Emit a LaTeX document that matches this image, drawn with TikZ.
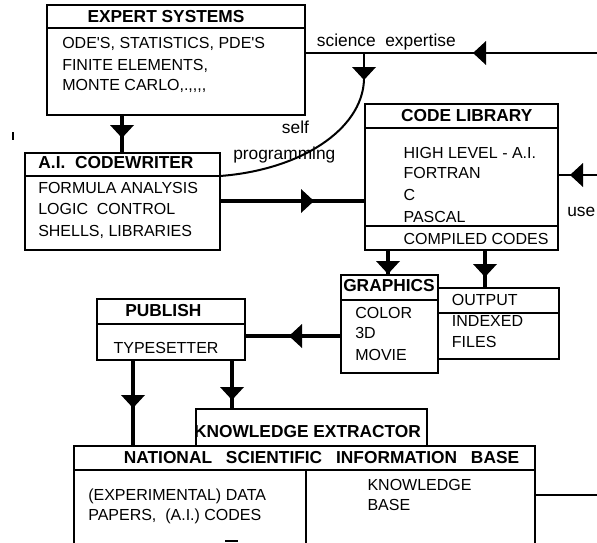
\documentclass[tikz,border=0pt]{standalone}
\usepackage{fontspec}
\setmainfont{Liberation Sans}
\usetikzlibrary{decorations.markings}
\begin{document}
\begin{tikzpicture}[x=0.75pt,y=-0.75pt,
  box/.style={draw, line width=1pt, inner sep=0pt, outer sep=0pt, anchor=north west},
  divl/.style={line width=1pt},
  thickl/.style={line width=3.6pt},
  thinl/.style={line width=1.5pt},
  tx/.style={anchor=base west, inner sep=0pt, font=\fontsize{12}{14}\selectfont},
  ttl/.style={anchor=base, inner sep=0pt, font=\fontsize{13}{15}\selectfont\bfseries},
  lbl/.style={anchor=base west, inner sep=0pt, font=\fontsize{13}{15}\selectfont},
  headat/.style={postaction={decorate}, decoration={markings, mark=at position #1 with {\fill (-9.75pt,-9pt) -- (0pt,0pt) -- (-9.75pt,9pt) -- cycle;}}}
]
\useasboundingbox (0,0) rectangle (597,543);
\clip (0,0) rectangle (597,543);

% boxes
\node[box, minimum width=258*0.75pt, minimum height=110*0.75pt] (es) at (47,5) {};
\node[box, minimum width=195*0.75pt, minimum height=97*0.75pt] (cw) at (25,153) {};
\node[box, minimum width=193*0.75pt, minimum height=146*0.75pt] (cl) at (365,104) {};
\node[box, minimum width=97*0.75pt, minimum height=98*0.75pt] (gr) at (341,275) {};
\node[box, minimum width=121*0.75pt, minimum height=71*0.75pt] (op) at (438,288) {};
\node[box, minimum width=148*0.75pt, minimum height=61*0.75pt] (pb) at (97,299) {};
\node[box, minimum width=231*0.75pt, minimum height=37*0.75pt] (ke) at (196,409) {};
\node[box, minimum width=461*0.75pt, minimum height=120*0.75pt] (nb) at (74,446) {};

% dividers
\draw[divl] (es.west |- 0,28) -- (es.east |- 0,28);
\draw[divl] (cw.west |- 0,176) -- (cw.east |- 0,176);
\draw[divl] (cl.west |- 0,128) -- (cl.east |- 0,128);
\draw[divl] (cl.west |- 0,226) -- (cl.east |- 0,226);
\draw[divl] (gr.west |- 0,300) -- (gr.east |- 0,300);
\draw[divl] (op.west |- 0,313) -- (op.east |- 0,313);
\draw[divl] (pb.west |- 0,324) -- (pb.east |- 0,324);
\draw[divl] (nb.west |- 0,470) -- (nb.east |- 0,470);
\draw[divl] (306,470) -- (nb.south -| 306,0);

% texts
\node[ttl] (esT) at (166,22) {EXPERT SYSTEMS};
\node[tx] (es1) at (62,48.3) {ODE\textquotesingle S, STATISTICS, PDE\textquotesingle S};
\node[tx] (es2) at (62,70) {FINITE ELEMENTS,};
\node[tx] (es3) at (62,90.7) {MONTE CARLO,.,\kern0pt,\kern0pt,\kern0pt,};

\node[ttl] (cwT) at (116,168.3) {A.I.\ \ CODEWRITER};
\node[tx] (cw1) at (38,193.3) {FORMULA ANALYSIS};
\node[tx] (cw2) at (38,214) {LOGIC\ \ CONTROL};
\node[tx] (cw3) at (38,236.7) {SHELLS, LIBRARIES};

\node[ttl] (clT) at (466.7,121.7) {CODE LIBRARY};
\node[tx] (cl1) at (403.3,158.3) {HIGH LEVEL - A.I.};
\node[tx] (cl2) at (403.3,178.3) {FORTRAN};
\node[tx] (cl3) at (403.3,200) {C};
\node[tx] (cl4) at (403.3,222.7) {PASCAL};
\node[tx] (cl5) at (403.3,244) {COMPILED CODES};

\node[ttl] (grT) at (389,291.7) {GRAPHICS};
\node[tx] (gr1) at (355,318.3) {COLOR};
\node[tx] (gr2) at (355,338.3) {3D};
\node[tx] (gr3) at (355,360) {MOVIE};

\node[tx] (opT) at (451.7,305) {OUTPUT};
\node[tx] (op1) at (451.7,326.7) {INDEXED};
\node[tx] (op2) at (451.7,347.3) {FILES};

\node[ttl] (pbT) at (163.3,316.7) {PUBLISH};
\node[tx] (pb1) at (113.3,353.3) {TYPESETTER};

\node[ttl] (keT) at (307.5,437.7) {KNOWLEDGE EXTRACTOR};
\node[ttl] (nbT) at (321.5,463.3) {NATIONAL\hspace{0.8em}SCIENTIFIC\hspace{0.8em}INFORMATION\hspace{0.8em}BASE};
\node[tx] (nb1) at (88,500) {(EXPERIMENTAL) DATA};
\node[tx] (nb2) at (88,520.7) {PAPERS,\ \ (A.I.) CODES};
\node[tx] (nb3) at (367.3,490.7) {KNOWLEDGE};
\node[tx] (nb4) at (367.3,510.7) {BASE};

\node[lbl] (sci) at (316.7,46) {science\ \ expertise};
\node[lbl] (slf) at (281.7,133.3) {self};
\node[lbl] (prg) at (233,159.3) {programming};
\node[lbl] (use) at (567,216.7) {use};

% connectors
\coordinate (sr) at (597,53);
\coordinate (sd) at (364,53);
\coordinate (st) at (364,80);
\coordinate (ur) at (597,175);
\coordinate (nr) at (597,495);

\draw[thickl, headat=17.25pt] (es.south -| 122,0) -- (cw.north -| 122,0);
\draw[thickl, headat=70.5pt] (cw.east |- 0,201) -- (cl.west |- 0,201);
\draw[thinl, headat=93pt] (sr) -- (es.east |- sr);
\draw[line width=2pt, headat=20.25pt] (sd) -- (st);
\draw[thinl] (cw.east |- 0,176) .. controls (300,170) and (362,130) .. (st);
\draw[thinl, headat=20.25pt] (ur) -- (cl.east |- ur);
\draw[thickl, headat=18pt] (cl.south -| 388,0) -- (gr.north -| 388,0);
\draw[thickl, headat=20.25pt] (cl.south -| 485,0) -- (op.north -| 485,0);
\draw[thickl, headat=39pt] (gr.west |- 0,336) -- (pb.east |- 0,336);
\draw[thickl, headat=36pt] (pb.south -| 133,0) -- (nb.north -| 133,0);
\draw[thickl, headat=30pt] (pb.south -| 232,0) -- (ke.north -| 232,0);
\draw[thinl] (nb.east |- nr) -- (nr);

% stray marks of the original
\draw[line width=1pt] (13,132) -- (13,140);
\draw[line width=1pt] (225,541) -- (238,541);
\end{tikzpicture}
\end{document}
